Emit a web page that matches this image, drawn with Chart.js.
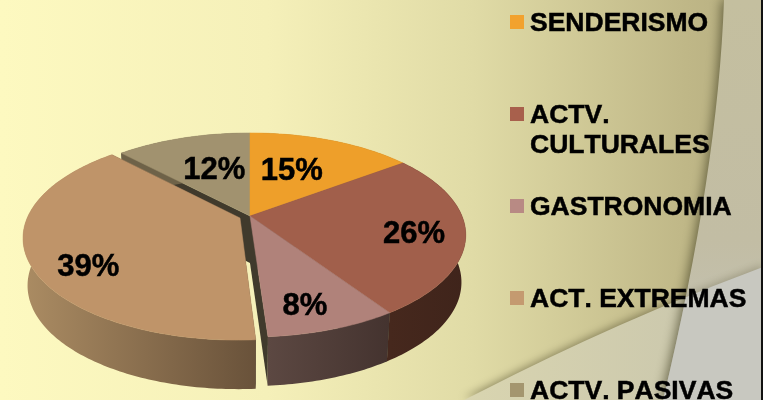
<!DOCTYPE html>
<html><head><meta charset="utf-8">
<style>html,body{margin:0;padding:0;background:#fff;overflow:hidden}#w{width:763px;height:400px;position:relative}</style>
<script src="https://cdn.jsdelivr.net/npm/chart.js@4/dist/chart.umd.min.js"></script>
</head><body><div id="w"><canvas id="c" width="763" height="400"></canvas></div>
<script>
const categories = ['SENDERISMO','ACTV. CULTURALES','GASTRONOMIA','ACT. EXTREMAS','ACTV. PASIVAS'];
const legendLines = [['SENDERISMO'],['ACTV.','CULTURALES'],['GASTRONOMIA'],['ACT. EXTREMAS'],['ACTV. PASIVAS']];
const values = [14.8,25.8,8.3,39,12.1];
const topColors = ['#ee9f2a','#a15f4b','#b0827a','#bf9469','#a1926f'];
const legendColors = ['#f2a22e','#a8604c','#b88a84','#c49a70','#a4966f'];
const wallFrom = ['#a0701c','#46281d','#5c4842','#ab8c63','#6e6248'];
const wallTo = ['#a0701c','#3f241b','#44332f','#69523a','#6e6248'];
const explode = [0,0,0,10,0];
const labelPlace = [[.6,-10,3],[.72,10,6],[.62,7,26],[.72,-3,19],[.6,7,4]];

const G = {cx:250, cy:216, A:212, a:98.5, k:.186, dTop:47, dNear:2, shrink:.98};
function proj(u,v){const w=1-G.k*v;return {x:G.cx+G.A*u/w,y:G.cy+G.a*v/w};}
function low(p,v){return {x:G.cx+(p.x-G.cx)*G.shrink,y:p.y+G.dTop+G.dNear*v};}
function pathOf(pts,ctx){ctx.beginPath();pts.forEach((p,i)=>i?ctx.lineTo(p.x,p.y):ctx.moveTo(p.x,p.y));ctx.closePath();}

function drawBackground(ctx){
  const W=763,H=400;
  let g=ctx.createLinearGradient(0,0,763,0);
  g.addColorStop(0,'#fdf9c0');g.addColorStop(.35,'#f5f0b9');g.addColorStop(.62,'#e0dba6');g.addColorStop(.9,'#bfb787');g.addColorStop(1,'#b5ad80');
  ctx.fillStyle=g;ctx.fillRect(0,0,W,H);
  const sweep=()=>{ctx.beginPath();ctx.moveTo(763,267);ctx.quadraticCurveTo(620,320,480,392);ctx.lineTo(464,400);ctx.lineTo(763,400);ctx.closePath();};
  ctx.save();ctx.shadowColor='rgba(70,65,35,.5)';ctx.shadowBlur=8;ctx.shadowOffsetY=-2;
  g=ctx.createLinearGradient(464,0,763,0);g.addColorStop(0,'#d9d5b0');g.addColorStop(1,'#c7c4ac');
  ctx.fillStyle=g;sweep();ctx.fill();ctx.restore();
  const right=()=>{ctx.beginPath();ctx.moveTo(724,0);ctx.quadraticCurveTo(718,170,663,400);ctx.lineTo(763,400);ctx.lineTo(763,0);ctx.closePath();};
  ctx.save();ctx.shadowColor='rgba(60,58,30,.7)';ctx.shadowBlur=12;ctx.shadowOffsetX=-2;
  g=ctx.createLinearGradient(0,0,0,400);g.addColorStop(0,'#c4bf9f');g.addColorStop(.6,'#c2bda4');g.addColorStop(1,'#c5c4ba');
  ctx.fillStyle=g;right();ctx.fill();ctx.restore();
  ctx.save();right();ctx.clip();
  ctx.shadowColor='rgba(70,65,35,.3)';ctx.shadowBlur=8;ctx.shadowOffsetY=-2;
  ctx.fillStyle='#c8c8c0';sweep();ctx.fill();ctx.restore();
  ctx.fillStyle='#111';ctx.fillRect(761,0,2,400);
}

function sliceGeom(el){
  const p=el.getProps(['startAngle','endAngle','outerRadius'],true);
  const off=(el.options.offset||0)/p.outerRadius;
  const mid=(p.startAngle+p.endAngle)/2;
  return {s:p.startAngle,e:p.endAngle,du:Math.cos(mid)*off,dv:Math.sin(mid)*off,mid};
}
function rim(g){
  const out=[],n=Math.max(6,Math.ceil((g.e-g.s)*60));
  for(let i=0;i<=n;i++){const a=g.s+(g.e-g.s)*i/n;out.push({u:Math.cos(a)+g.du,v:Math.sin(a)+g.dv});}
  return out;
}
function drawSide(ctx,g,i){
  const r=rim(g);
  const x=r.map(q=>proj(q.u,q.v).x),x0=Math.min(...x),x1=Math.max(...x);
  const gr=ctx.createLinearGradient(x0,0,Math.max(x1,x0+1),0);
  gr.addColorStop(0,wallFrom[i]);gr.addColorStop(1,wallTo[i]);
  const a=proj(g.du,g.dv),al=low(a,g.dv);
  ctx.fillStyle=i===3?'#41352d':'#403a2c';
  [r[0],r[r.length-1]].forEach(q=>{const t=proj(q.u,q.v);pathOf([a,t,low(t,q.v),al],ctx);ctx.fill();});
  const up=r.map(q=>proj(q.u,q.v)),dn=r.map(q=>low(proj(q.u,q.v),q.v)).reverse();
  pathOf(up.concat(dn),ctx);ctx.fillStyle=gr;ctx.fill();
}
function drawTop(ctx,g,i){
  const r=rim(g).map(q=>proj(q.u,q.v));
  pathOf([proj(g.du,g.dv)].concat(r),ctx);
  ctx.fillStyle=topColors[i];ctx.fill();ctx.strokeStyle=topColors[i];ctx.lineWidth=.5;ctx.stroke();
}
function boldText(ctx,t,x,y){ctx.fillText(t,x,y);ctx.strokeText(t,x,y);}

const pie3d={
  id:'pie3d',
  beforeDraw(chart){drawBackground(chart.ctx);},
  beforeDatasetsDraw(chart){
    const ctx=chart.ctx,meta=chart.getDatasetMeta(0);
    const gs=meta.data.map(sliceGeom);
    const total=values.reduce((a,b)=>a+b,0);
    ctx.save();
    [4,0,1,2].forEach(i=>drawSide(ctx,gs[i],i));
    [4,0,1,2].forEach(i=>drawTop(ctx,gs[i],i));
    drawSide(ctx,gs[3],3);drawTop(ctx,gs[3],3);
    ctx.fontKerning='none';
    ctx.fillStyle='#000';ctx.strokeStyle='#000';ctx.lineWidth=.5;
    ctx.font='bold 31px "Liberation Sans"';ctx.textAlign='center';ctx.textBaseline='middle';
    gs.forEach((g,i)=>{
      const [r,dx,dy]=labelPlace[i];
      const p=proj(Math.cos(g.mid)*r+g.du,Math.sin(g.mid)*r+g.dv);
      boldText(ctx,Math.round(values[i]/total*100)+'%',p.x+dx,p.y+dy);
    });
    ctx.font='bold 26.5px "Liberation Sans"';ctx.textAlign='left';
    legendLines.forEach((lines,i)=>{
      const y=22+92*i;
      ctx.fillStyle=legendColors[i];ctx.fillRect(510,y-7,14,14);
      ctx.fillStyle='#000';
      lines.forEach((t,j)=>boldText(ctx,t,530,y+2+j*29.5));
    });
    ctx.restore();
    return false;
  }
};
new Chart(document.getElementById('c'),{
  type:'pie',
  data:{labels:categories,datasets:[{data:values,backgroundColor:topColors,offset:explode,borderWidth:0}]},
  options:{responsive:false,animation:false,events:[],plugins:{legend:{display:false},tooltip:{enabled:false}}},
  plugins:[pie3d]
});
</script></body></html>
